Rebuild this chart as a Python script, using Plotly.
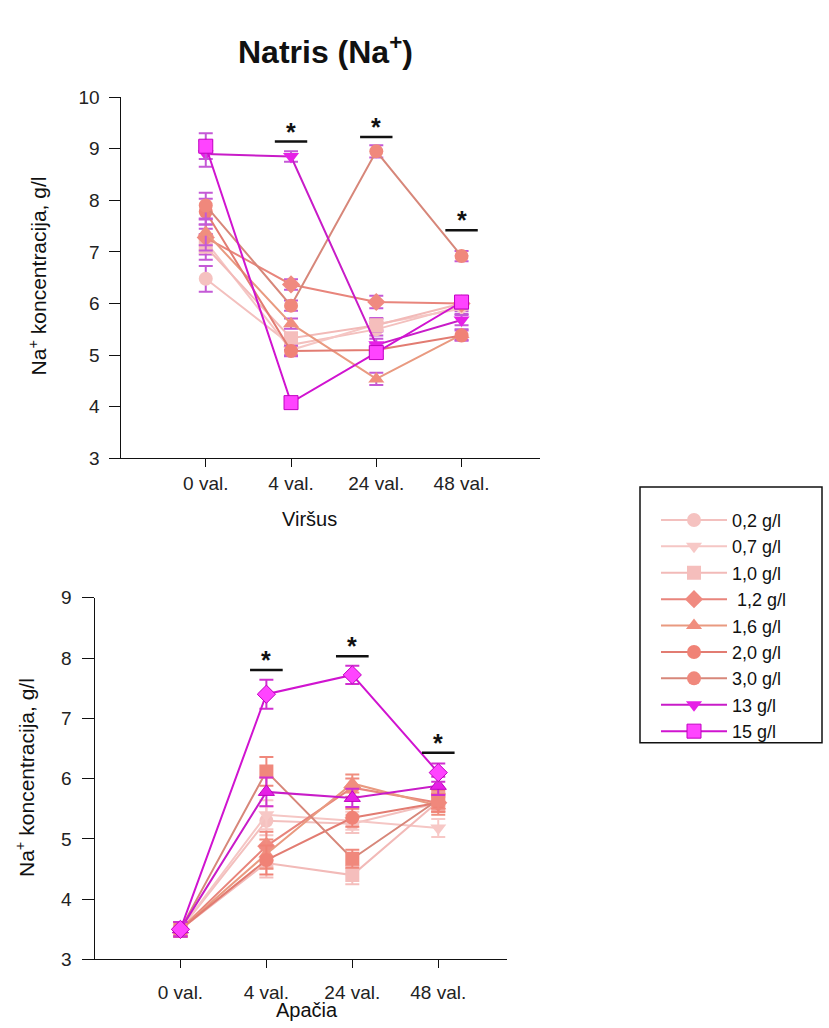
import plotly.graph_objects as go

# Sampling times and series labels
time_points = ["0 val.", "4 val.", "24 val.", "48 val."]
x_pos = [1, 2, 3, 4]
series_names = ["0,2 g/l", "0,7 g/l", "1,0 g/l", " 1,2 g/l", "1,6 g/l",
                "2,0 g/l", "3,0 g/l", "13 g/l", "15 g/l"]

# Upper panel (Viršus): mean Na+ concentration, g/l
top_02 = [6.48, 5.20, 5.50, 5.95]
top_07 = [7.20, 5.10, 5.60, 5.90]
top_10 = [7.10, 5.33, 5.58, 6.00]
top_12 = [7.28, 6.37, 6.03, 6.00]
top_16 = [7.38, 5.61, 4.54, 5.40]
top_20 = [7.78, 5.08, 5.10, 5.38]
top_30 = [7.90, 5.96, 8.95, 6.92]
top_13 = [8.90, 8.85, 5.20, 5.68]
top_15 = [9.05, 4.08, 5.05, 6.03]
top_err = [0.25, 0.10, 0.12, 0.10]

# Lower panel (Apačia): mean Na+ concentration, g/l
bot_02 = [3.50, 5.30, 5.25, 5.60]
bot_07 = [3.50, 5.40, 5.30, 5.18]
bot_10 = [3.50, 4.60, 4.40, 5.62]
bot_12 = [3.50, 4.88, 5.85, 5.60]
bot_16 = [3.50, 4.75, 5.92, 5.55]
bot_20 = [3.50, 4.65, 5.35, 5.60]
bot_30 = [3.50, 6.12, 4.67, 5.65]
bot_13 = [3.50, 5.78, 5.68, 5.88]
bot_15 = [3.50, 7.40, 7.72, 6.10]
bot_err = [0.12, 0.24, 0.15, 0.15]

# Significance bars: (time index, height)
top_sig = [(2, 9.14), (3, 9.23), (4, 7.42)]
bot_sig = [(2, 7.80), (3, 8.03), (4, 6.43)]

FONT = "Liberation Sans, Arial, sans-serif"

styles = [
    # marker colour, line colour, top symbol, bottom symbol
    ("#F5C2C0", "#F3C0BE", "circle", "circle"),
    ("#F7C8C6", "#F5C6C4", "triangle-down", "triangle-down"),
    ("#F5BEBC", "#F2BAB8", "square", "square"),
    ("#F08A80", "#E8857C", "diamond", "diamond"),
    ("#F08E7E", "#E99A80", "triangle-up", "triangle-up"),
    ("#F08276", "#E27C72", "circle", "circle"),
    ("#F0887C", "#D7877A", "circle", "square"),
    ("#E620E6", "#C81CC8", "triangle-down", "triangle-up"),
    ("#FF44FF", "#D014D0", "square", "diamond"),
]

top_vals = [top_02, top_07, top_10, top_12, top_16, top_20, top_30, top_13, top_15]
bot_vals = [bot_02, bot_07, bot_10, bot_12, bot_16, bot_20, bot_30, bot_13, bot_15]

fig = go.Figure()

for i, name in enumerate(series_names):
    mcol, lcol, sym_t, sym_b = styles[i]
    line_border = "#C000C0" if i == 8 else mcol
    fig.add_trace(go.Scatter(
        x=x_pos, y=top_vals[i], name=name, mode="lines+markers",
        line=dict(color=lcol, width=2),
        marker=dict(symbol=sym_t, size=14, color=mcol,
                    line=dict(color=line_border, width=1 if i == 8 else 0)),
        error_y=dict(type="data", array=top_err, color="#C45AD6",
                     thickness=2, width=7),
        xaxis="x", yaxis="y", showlegend=True, legendrank=i,
    ))

for i, name in enumerate(series_names):
    mcol, lcol, sym_t, sym_b = styles[i]
    ecol = "#D030D0" if i >= 7 else mcol
    line_border = "#C000C0" if i >= 7 else mcol
    fig.add_trace(go.Scatter(
        x=x_pos, y=bot_vals[i], name=name, mode="lines+markers",
        line=dict(color=lcol, width=2),
        marker=dict(symbol=sym_b, size=14, color=mcol,
                    line=dict(color=line_border, width=1 if i >= 7 else 0)),
        error_y=dict(type="data", array=bot_err, color=ecol,
                     thickness=2, width=7),
        xaxis="x2", yaxis="y2", showlegend=False,
    ))

W, H = 829, 1028

def px_x(p):
    return p / W

def px_y(p):
    return 1 - p / H

TICKFONT = dict(family=FONT, size=19, color="#222")

axis_common = dict(
    showline=True, linecolor="#111", linewidth=1, ticks="outside",
    tickcolor="#111", tickwidth=1, showgrid=False, zeroline=False,
    tickfont=TICKFONT,
)

fig.update_layout(
    width=W, height=H,
    margin=dict(l=0, r=0, t=0, b=0),
    paper_bgcolor="white", plot_bgcolor="white",
    font=dict(family=FONT, color="#111"),
    xaxis=dict(domain=[px_x(120.5), px_x(540)], range=[0, 4.92],
               tickvals=x_pos, ticktext=time_points, ticklen=8,
               anchor="y", **axis_common),
    yaxis=dict(domain=[px_y(457.7), px_y(89)], range=[3, 10], dtick=1,
               ticklen=11, ticklabelstandoff=5, anchor="x", **axis_common),
    xaxis2=dict(domain=[px_x(94.5), px_x(507)], range=[0, 4.8],
                tickvals=x_pos, ticktext=time_points, ticklen=8,
                ticklabelstandoff=8, anchor="y2", **axis_common),
    yaxis2=dict(domain=[px_y(969.3), px_y(600)], range=[3, 9], dtick=1,
                ticklen=12, ticklabelstandoff=6, anchor="x2", **axis_common),
    legend=dict(x=px_x(656), y=px_y(502), xanchor="left", yanchor="top",
                bgcolor="rgba(0,0,0,0)", borderwidth=0,
                font=dict(family=FONT, size=18, color="#111"),
                itemwidth=66, tracegroupgap=0, traceorder="normal"),
    showlegend=True,
)

shapes = []
annotations = []

# Legend frame
shapes.append(dict(type="rect", xref="paper", yref="paper",
                   x0=px_x(640), x1=px_x(822), y0=px_y(748), y1=px_y(487),
                   line=dict(color="#111", width=1.5)))

# Significance bars and stars
for xi, yv in top_sig:
    shapes.append(dict(type="line", xref="x", yref="y",
                       x0=xi - 0.19, x1=xi + 0.19, y0=yv, y1=yv,
                       line=dict(color="#111", width=2.5)))
    annotations.append(dict(x=xi, y=yv, xref="x", yref="y", text="<b>*</b>",
                            showarrow=False, xanchor="center", yanchor="bottom",
                            yshift=-6,
                            font=dict(family=FONT, size=25, color="#111")))
for xi, yv in bot_sig:
    shapes.append(dict(type="line", xref="x2", yref="y2",
                       x0=xi - 0.19, x1=xi + 0.19, y0=yv, y1=yv,
                       line=dict(color="#111", width=2.5)))
    annotations.append(dict(x=xi, y=yv, xref="x2", yref="y2", text="<b>*</b>",
                            showarrow=False, xanchor="center", yanchor="bottom",
                            yshift=-6,
                            font=dict(family=FONT, size=25, color="#111")))

# Title and axis titles
def label(text, x, y, size, angle=0, family=FONT):
    return dict(x=px_x(x), y=px_y(y), xref="paper", yref="paper",
                text=text, showarrow=False, textangle=angle,
                xanchor="center", yanchor="middle",
                font=dict(family=family, size=size, color="#111"))

annotations += [
    label("<b>Natris (Na<sup>+</sup>)</b>", 325, 41, 32),
    label("Na<sup>+</sup> koncentracija, g/l", 38, 272, 21, angle=-90),
    label("Viršus", 309, 520, 20),
    label("Na<sup>+</sup> koncentracija, g/l", 25, 784, 21, angle=-90),
    label("Apačia", 307, 1021, 20),
]

fig.update_layout(shapes=shapes, annotations=annotations)

fig.write_html("out.html")
